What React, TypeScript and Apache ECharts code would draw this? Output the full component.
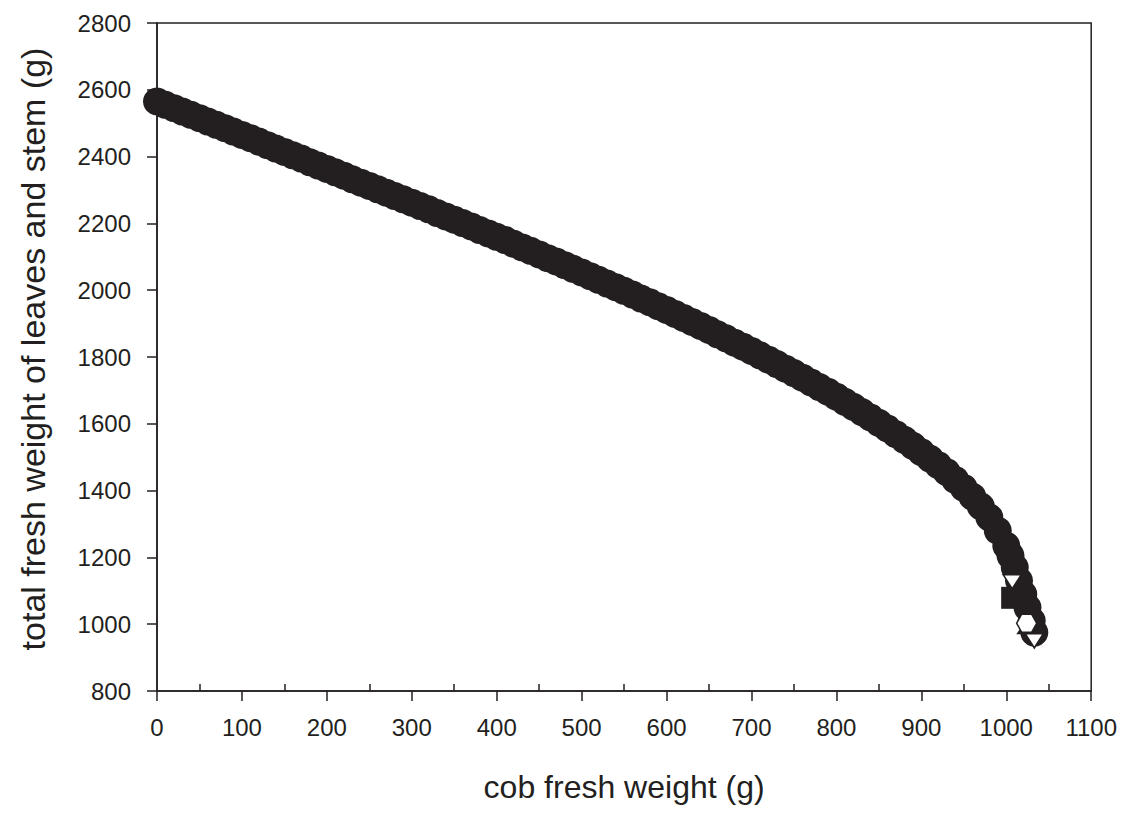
import React, { useEffect, useRef } from "react";
import * as echarts from "echarts";

// cob fresh weight (g)
const cobWeight = [
  0, 10, 20, 30, 40, 50, 60, 70, 80, 90,
  100, 110, 120, 130, 140, 150, 160, 170, 180, 190,
  200, 210, 220, 230, 240, 250, 260, 270, 280, 290,
  300, 310, 320, 330, 340, 350, 360, 370, 380, 390,
  400, 410, 420, 430, 440, 450, 460, 470, 480, 490,
  500, 510, 520, 530, 540, 550, 560, 570, 580, 590,
  600, 610, 620, 630, 640, 650, 660, 670, 680, 690,
  700, 710, 720, 730, 740, 750, 760, 770, 780, 790,
  800, 810, 820, 830, 840, 850, 860, 870, 880, 890,
  900, 910, 920, 930, 940, 950, 960, 970, 980, 990,
  1000, 1005, 1010, 1015, 1020, 1025, 1030, 1033,
];
// total fresh weight of leaves and stem (g)
const leafStemWeight = [
  2565, 2555, 2545, 2535, 2525, 2515, 2505, 2495, 2485, 2475,
  2465, 2455, 2445, 2434, 2424, 2414, 2404, 2394, 2383, 2373,
  2363, 2353, 2343, 2332, 2322, 2312, 2302, 2292, 2282, 2272,
  2262, 2252, 2242, 2231, 2221, 2211, 2201, 2191, 2180, 2170,
  2160, 2150, 2139, 2128, 2118, 2107, 2096, 2086, 2075, 2064,
  2053, 2042, 2031, 2020, 2009, 1998, 1987, 1975, 1964, 1952,
  1941, 1929, 1917, 1905, 1893, 1881, 1868, 1856, 1843, 1831,
  1818, 1805, 1792, 1779, 1765, 1752, 1738, 1724, 1710, 1696,
  1681, 1666, 1651, 1635, 1619, 1603, 1586, 1569, 1552, 1534,
  1515, 1496, 1476, 1455, 1432, 1408, 1382, 1353, 1320, 1280,
  1235, 1205, 1170, 1130, 1090, 1050, 1010, 975,
];

// individual markers visible at the low end of the band
const squareX = [1004];
const squareY = [1079];
const hexX = [1024];
const hexY = [1003];
const downTriX = [1007, 1033];
const downTriY = [1127, 950];
const upTriX = [1020, 1040];
const upTriY = [985, 985];

const xTicks = [0, 100, 200, 300, 400, 500, 600, 700, 800, 900, 1000, 1100];
const xMinorTicks = [50, 150, 250, 350, 450, 550, 650, 750, 850, 950, 1050];
const yTicks = [800, 1000, 1200, 1400, 1600, 1800, 2000, 2200, 2400, 2600, 2800];

const INK = "#231f20";
const FONT = "'Liberation Sans', Arial, Helvetica, sans-serif";

const zip = (xs: number[], ys: number[]) => xs.map((x, i) => [x, ys[i]]);
const plain = (v: number) => String(v);

export default function App() {
  const ref = useRef<HTMLDivElement>(null);
  useEffect(() => {
    if (!ref.current) return;
    const chart = echarts.init(ref.current, undefined, { renderer: "svg" });
    const axisLine = { show: true, lineStyle: { color: INK, width: 1.5 } };
    const solid = { opacity: 1 };
    chart.setOption({
      animation: false,
      backgroundColor: "#ffffff",
      grid: {
        left: 140,
        right: 27,
        top: 15,
        bottom: 105,
        show: true,
        borderColor: INK,
        borderWidth: 1.5,
        backgroundColor: "transparent",
      },
      xAxis: [
        {
          type: "value",
          min: xTicks[0],
          max: xTicks[xTicks.length - 1],
          interval: 100,
          position: "bottom",
          axisLine,
          axisTick: { show: true, inside: false, length: 10, lineStyle: { color: INK, width: 1.5 } },
          axisLabel: { fontSize: 24, color: INK, fontFamily: FONT, margin: 24, formatter: plain },
          splitLine: { show: false },
          name: "cob fresh weight (g)",
          nameLocation: "middle",
          nameGap: 80,
          nameTextStyle: { fontSize: 32, color: INK, fontFamily: FONT },
        },
        {
          type: "value",
          min: xTicks[0],
          max: xTicks[xTicks.length - 1],
          position: "bottom",
          axisLine: { show: false },
          axisTick: {
            show: true,
            inside: true,
            length: 7,
            customValues: xMinorTicks,
            lineStyle: { color: INK, width: 1.5 },
          },
          axisLabel: { show: false },
          splitLine: { show: false },
        },
      ],
      yAxis: {
        type: "value",
        min: yTicks[0],
        max: yTicks[yTicks.length - 1],
        interval: 200,
        axisLine,
        axisTick: { show: true, inside: false, length: 10, lineStyle: { color: INK, width: 1.5 } },
        axisLabel: { fontSize: 24, color: INK, fontFamily: FONT, margin: 26, formatter: plain },
        splitLine: { show: false },
        name: "total fresh weight of leaves and stem (g)",
        nameLocation: "middle",
        nameGap: 107,
        nameTextStyle: { fontSize: 34, color: INK, fontFamily: FONT, padding: [0, 0, 0, 16] },
      },
      series: [
        {
          type: "scatter",
          name: "circles",
          symbol: "circle",
          symbolSize: 28,
          itemStyle: { color: INK, ...solid },
          data: zip(cobWeight, leafStemWeight),
        },
        {
          type: "scatter",
          name: "up triangles",
          symbol: "triangle",
          symbolSize: [14, 10],
          itemStyle: { color: INK, ...solid },
          data: zip(upTriX, upTriY),
        },
        {
          type: "scatter",
          name: "squares",
          symbol: "rect",
          symbolSize: [17, 22],
          itemStyle: { color: INK, ...solid },
          data: zip(squareX, squareY),
        },
        {
          type: "scatter",
          name: "hexagons",
          symbol: "path://M-10,0L-5,-8.66L5,-8.66L10,0L5,8.66L-5,8.66Z",
          symbolSize: [20, 18],
          itemStyle: { color: "#ffffff", borderColor: INK, borderWidth: 1.5, ...solid },
          data: zip(hexX, hexY),
        },
        {
          type: "scatter",
          name: "down triangles",
          symbol: "triangle",
          symbolRotate: 180,
          symbolSize: [18, 14],
          itemStyle: { color: "#ffffff", borderColor: INK, borderWidth: 1.5, ...solid },
          data: zip(downTriX, downTriY),
        },
      ],
    });
    return () => chart.dispose();
  }, []);
  return <div ref={ref} style={{ width: 1112, height: 800 }} />;
}
